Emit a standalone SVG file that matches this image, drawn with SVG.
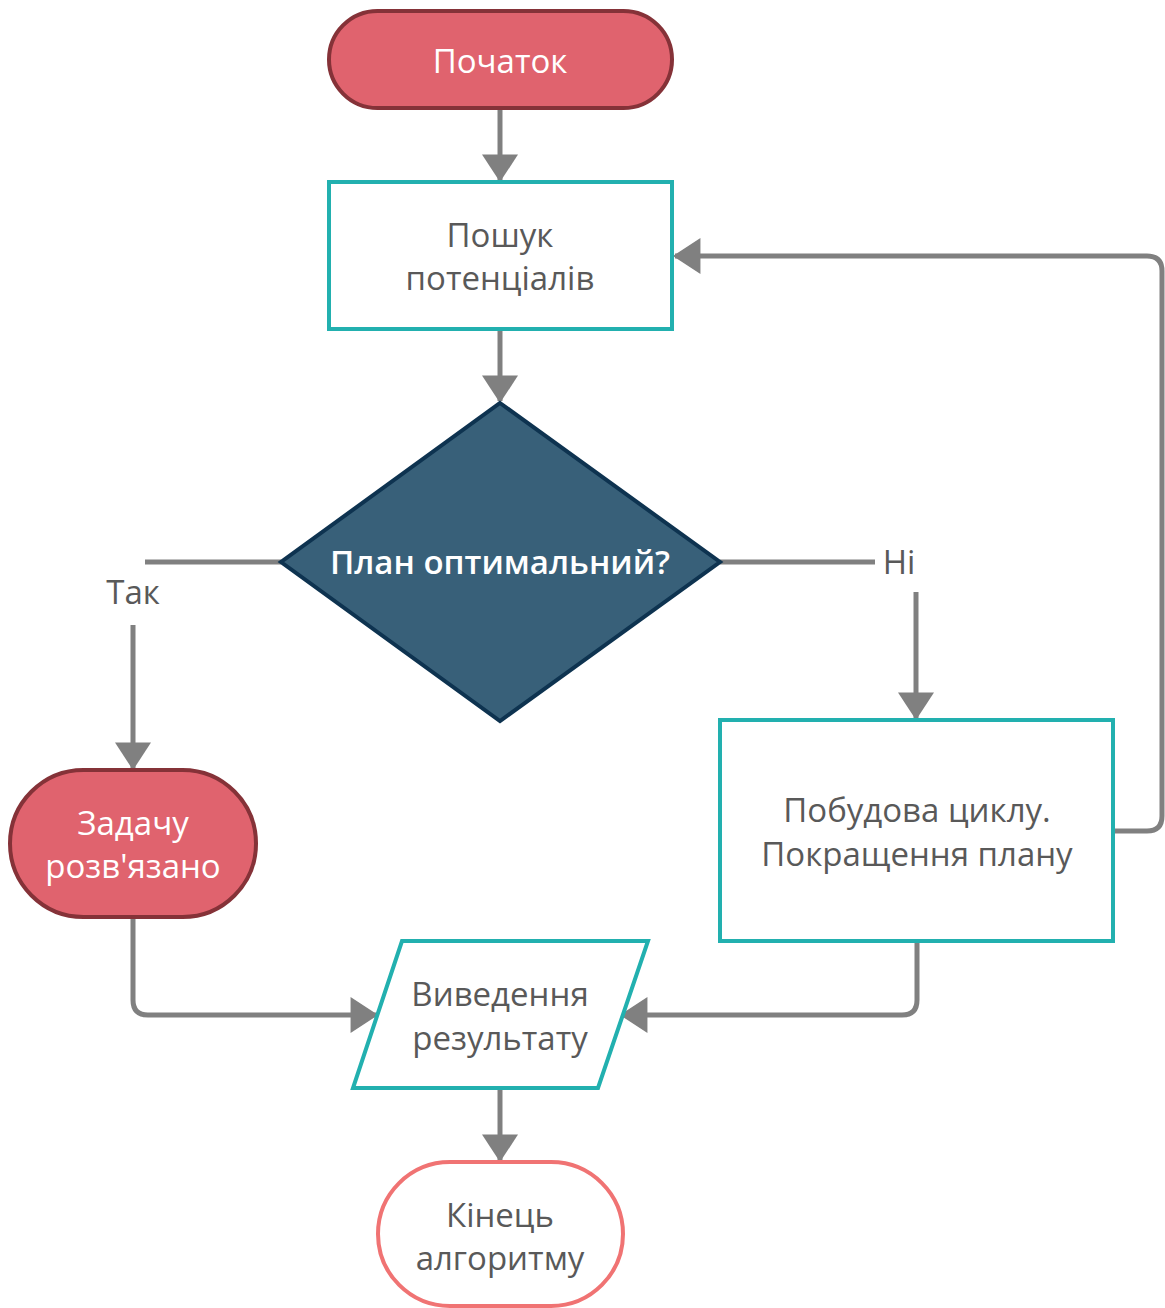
<svg xmlns="http://www.w3.org/2000/svg" width="1165" height="1308" viewBox="0 0 1165 1308">
<style>
  .lbl { font-family: "Open Sans", "Noto Sans", "DejaVu Sans", sans-serif; font-size: 33px; text-anchor: middle; }
  .w { fill: #ffffff; }
  .g { fill: #595959; }
  .term { fill: #E0636E; stroke: #853238; stroke-width: 4; }
  .proc { fill: #ffffff; stroke: #22B0AF; stroke-width: 4; }
  .conn { fill: none; stroke: #808080; stroke-width: 5; }
</style>
<defs>
  <marker id="arr" markerUnits="userSpaceOnUse" markerWidth="36" markerHeight="36" viewBox="0 0 26 34" refX="24" refY="17" orient="auto">
    <path d="M0,0 L26,17 L0,34 Z" fill="#808080"/>
  </marker>
</defs>
<rect width="1165" height="1308" fill="#ffffff"/>

<g id="connectors">
  <line class="conn" x1="500" y1="108" x2="500" y2="180" marker-end="url(#arr)"/>
  <line class="conn" x1="500" y1="329" x2="500" y2="401" marker-end="url(#arr)"/>
  <line class="conn" x1="281" y1="562" x2="145" y2="562"/>
  <line class="conn" x1="133" y1="625" x2="133" y2="768" marker-end="url(#arr)"/>
  <line class="conn" x1="720" y1="562" x2="875" y2="562"/>
  <line class="conn" x1="916" y1="592" x2="916" y2="718" marker-end="url(#arr)"/>
  <path class="conn" d="M1113,831 L1147,831 Q1162,831 1162,816 L1162,271 Q1162,256 1147,256 L675,256" marker-end="url(#arr)"/>
  <path class="conn" d="M133,917 L133,1000 Q133,1015 148,1015 L376,1015" marker-end="url(#arr)"/>
  <path class="conn" d="M917,941 L917,1000 Q917,1015 902,1015 L622,1015" marker-end="url(#arr)"/>
  <line class="conn" x1="500" y1="1088" x2="500" y2="1160" marker-end="url(#arr)"/>
  <text class="lbl g" x="133" y="604">Так</text>
  <text class="lbl g" x="899" y="574">Ні</text>
</g>

<g id="start">
  <rect class="term" x="329" y="11" width="343" height="97" rx="48.5"/>
  <text class="lbl w" x="500" y="73">Початок</text>
</g>

<g id="search">
  <rect class="proc" x="329" y="182" width="343" height="147"/>
  <text class="lbl g" x="500" y="247">Пошук</text>
  <text class="lbl g" x="500" y="290">потенціалів</text>
</g>

<g id="decision">
  <polygon points="500,403 720,562 500,721 281,562" fill="#386079" stroke="#0E3350" stroke-width="4"/>
  <text class="lbl w" x="500" y="574" font-size="31" font-weight="600">План оптимальний?</text>
</g>

<g id="solved">
  <rect class="term" x="10" y="770" width="246" height="147" rx="73.5"/>
  <text class="lbl w" x="133" y="835">Задачу</text>
  <text class="lbl w" x="133" y="878">розв'язано</text>
</g>

<g id="cycle">
  <rect class="proc" x="720" y="720" width="393" height="221"/>
  <text class="lbl g" x="917" y="822">Побудова циклу.</text>
  <text class="lbl g" x="917" y="866">Покращення плану</text>
</g>

<g id="output">
  <polygon class="proc" points="402,941 648,941 598,1088 353,1088"/>
  <text class="lbl g" x="500" y="1006">Виведення</text>
  <text class="lbl g" x="500" y="1050">результату</text>
</g>

<g id="end">
  <rect x="378" y="1162" width="245" height="144" rx="72" fill="#ffffff" stroke="#F07373" stroke-width="4"/>
  <text class="lbl g" x="500" y="1227">Кінець</text>
  <text class="lbl g" x="500" y="1270">алгоритму</text>
</g>
</svg>
